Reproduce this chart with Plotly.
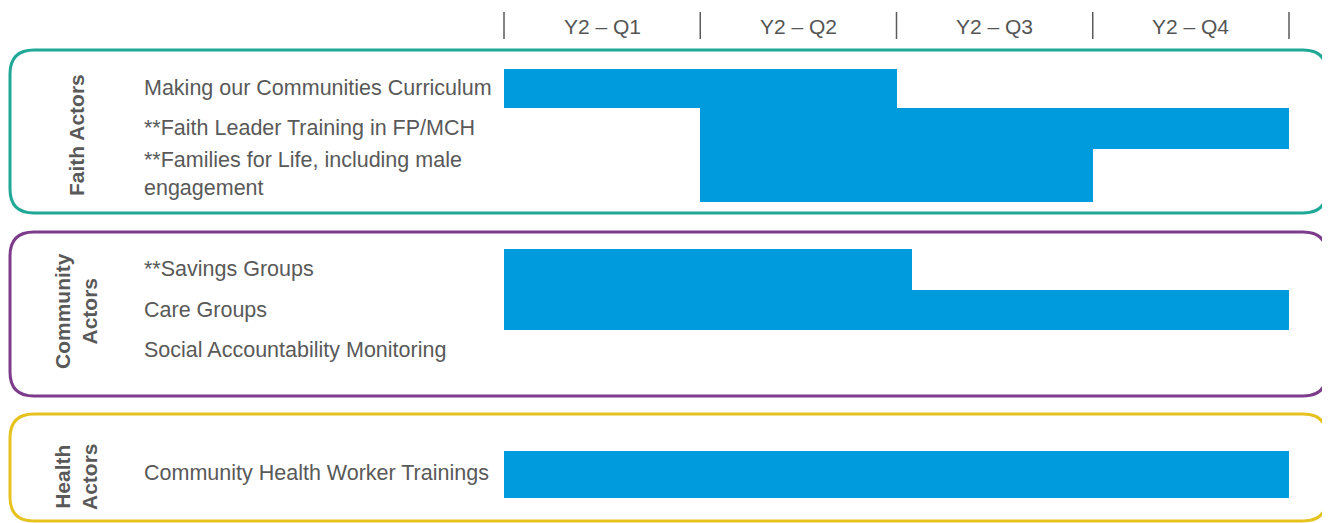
import plotly.graph_objects as go

# ---------------- data ----------------
quarters = ["Y2 – Q1", "Y2 – Q2", "Y2 – Q3", "Y2 – Q4"]
groups = ["Faith Actors", "Community<br>Actors", "Health<br>Actors"]
tasks = [
    "Making our Communities Curriculum",
    "**Faith Leader Training in FP/MCH",
    "**Families for Life, including male<br>engagement",
    "**Savings Groups",
    "Care Groups",
    "Social Accountability Monitoring",
    "Community Health Worker Trainings",
]
task_group = [0, 0, 0, 1, 1, 1, 2]
start_q = [0, 1, 1, 0, 0, None, 0]
end_q = [2, 4, 3, 2.08, 4, None, 4]

# ---------------- layout (pixel geometry, page coords) ----------------
OFF = 8                          # page body margin
W, H = 1330 - OFF, 523 - OFF     # figure size
X0, QW = 504.0 - OFF, 196.25     # pixel of quarter 0, pixels per quarter
row_center = [88.5, 128.5, 175.5, 269.5, 310, 350, 474.5]
row_height = [39, 41, 53, 41, 40, 40, 47]
label_y = [88, 128, 174, 269, 310, 350, 473]
box_y = [(50, 213), (232, 396), (414, 521)]
box_colors = ["#1fa896", "#7d3c8b", "#e6c21e"]
group_cy = [135, 311, 477]
BAR_COLOR = "#009bdc"
TEXT_COLOR = "#595959"
FONT = "Liberation Sans, Arial, sans-serif"


def py(v):
    return v - OFF


xr = [(0 - X0) / QW, (W - X0) / QW]

fig = go.Figure()

bx, bb, by, bw = [], [], [], []
for s, e, c, h in zip(start_q, end_q, row_center, row_height):
    if s is None:
        continue
    bb.append(s)
    bx.append(e - s)
    by.append(py(c))
    bw.append(h)

fig.add_trace(go.Bar(
    orientation="h", x=bx, base=bb, y=by, width=bw,
    marker=dict(color=BAR_COLOR, line=dict(width=0)),
    showlegend=False, hoverinfo="skip",
))

shapes = []
annotations = []

# header separators and quarter labels
for i in range(len(quarters) + 1):
    shapes.append(dict(type="line", xref="x", yref="y", x0=i, x1=i, y0=py(12), y1=py(39),
                       line=dict(color="#5a5a5a", width=1.5)))
for i, q in enumerate(quarters):
    annotations.append(dict(x=i + 0.5, y=py(26), xref="x", yref="y", text=q, showarrow=False,
                            font=dict(family=FONT, size=21, color="#555555"),
                            xanchor="center", yanchor="middle"))


# rounded group boxes
def rounded(x0, y0, x1, y1, r):
    rx = r / W
    X0p, X1p = x0 / W, x1 / W
    return (f"M {X0p + rx},{y0} L {X1p - rx},{y0} Q {X1p},{y0} {X1p},{y0 + r} "
            f"L {X1p},{y1 - r} Q {X1p},{y1} {X1p - rx},{y1} "
            f"L {X0p + rx},{y1} Q {X0p},{y1} {X0p},{y1 - r} "
            f"L {X0p},{y0 + r} Q {X0p},{y0} {X0p + rx},{y0} Z")


for (y0, y1), col in zip(box_y, box_colors):
    shapes.append(dict(type="path", xref="paper", yref="y",
                       path=rounded(py(10), py(y0), py(1327), py(y1), 24),
                       line=dict(color=col, width=3), layer="below"))

# group labels (rotated)
for g, cy in zip(groups, group_cy):
    annotations.append(dict(x=py(76) / W, y=py(cy), xref="paper", yref="y", text=f"<b>{g}</b>",
                            showarrow=False, textangle=-90,
                            font=dict(family=FONT, size=21, color=TEXT_COLOR),
                            xanchor="center", yanchor="middle", align="center"))

# task labels
for t, ly in zip(tasks, label_y):
    annotations.append(dict(x=py(142) / W, y=py(ly), xref="paper", yref="y", text=t,
                            showarrow=False, font=dict(family=FONT, size=21.5, color=TEXT_COLOR),
                            xanchor="left", yanchor="middle", align="left"))

fig.update_layout(
    width=W, height=H,
    margin=dict(l=0, r=0, t=0, b=0),
    paper_bgcolor="white", plot_bgcolor="white",
    bargap=0,
    xaxis=dict(range=xr, visible=False, fixedrange=True),
    yaxis=dict(range=[H, 0], visible=False, fixedrange=True),
    shapes=shapes, annotations=annotations,
)

fig.write_html("out.html")
